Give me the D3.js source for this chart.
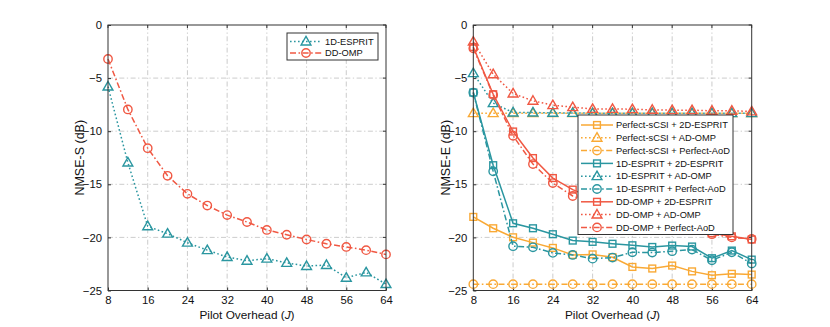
<!DOCTYPE html>
<html><head><meta charset="utf-8">
<script src="https://cdn.jsdelivr.net/npm/d3@7"></script>
<style>body{margin:0;background:#fff}svg{display:block;font-family:"Liberation Sans",Arial,Helvetica,sans-serif}</style>
</head><body><svg id="c" width="830" height="327"></svg>
<script>
// ---------- data ----------
const pilot = [8,12,16,20,24,28,32,36,40,44,48,52,56,60,64];
const xTicks = [8,16,24,32,40,48,56,64];
const yTicks = [0,-5,-10,-15,-20,-25];

// left panel (NMSE-S)
const left_ESPRIT1D = [-5.8,-12.95,-18.95,-19.65,-20.5,-21.2,-21.85,-22.2,-22.0,-22.4,-22.7,-22.6,-23.8,-23.3,-24.4];
const left_DDOMP    = [-3.2,-7.95,-11.6,-14.2,-15.9,-17.0,-17.9,-18.55,-19.3,-19.75,-20.2,-20.6,-20.9,-21.2,-21.6];

// right panel (NMSE-E)
const pS_2D   = [-18.07,-19.14,-19.99,-20.49,-20.99,-21.65,-21.6,-21.87,-22.78,-22.93,-22.65,-23.2,-23.56,-23.43,-23.5];
const pS_AD   = [-8.3,-8.3,-8.3,-8.3,-8.3,-8.3,-8.3,-8.3,-8.3,-8.3,-8.3,-8.3,-8.3,-8.3,-8.3];
const pS_PA   = [-24.4,-24.4,-24.4,-24.4,-24.4,-24.4,-24.4,-24.4,-24.4,-24.4,-24.4,-24.4,-24.4,-24.4,-24.4];
const e1_2D   = [-6.36,-13.2,-18.67,-19.14,-19.7,-20.3,-20.42,-20.6,-20.74,-20.9,-20.77,-20.86,-21.96,-21.24,-22.09];
const e1_AD   = [-4.54,-7.36,-8.24,-8.24,-8.27,-8.28,-8.3,-8.3,-8.3,-8.3,-8.3,-8.3,-8.3,-8.3,-8.3];
const e1_PA   = [-6.36,-13.78,-20.83,-20.93,-21.46,-21.65,-22.0,-21.9,-21.4,-21.43,-21.3,-21.15,-22.15,-21.4,-22.46];
const dd_2D   = [-2.07,-6.52,-10.03,-12.53,-14.41,-15.5,-16.3,-17.0,-17.6,-18.2,-18.7,-19.2,-19.6,-19.9,-20.2];
const dd_AD   = [-1.57,-4.64,-6.45,-7.14,-7.55,-7.74,-7.9,-7.9,-7.93,-7.99,-8.02,-8.02,-8.08,-8.08,-8.14];
const dd_PA   = [-2.2,-6.58,-10.43,-13.1,-14.88,-16.1,-16.8,-17.4,-18.0,-18.5,-18.9,-19.3,-19.7,-20.0,-20.15];

const leftNames  = ["1D-ESPRIT","DD-OMP"];
const rightNames = ["Perfect-sCSI + 2D-ESPRIT","Perfect-sCSI + AD-OMP","Perfect-sCSI + Perfect-AoD",
                    "1D-ESPRIT + 2D-ESPRIT","1D-ESPRIT + AD-OMP","1D-ESPRIT + Perfect-AoD",
                    "DD-OMP + 2D-ESPRIT","DD-OMP + AD-OMP","DD-OMP + Perfect-AoD"];

// ---------- styles ----------
const TEAL="#2a96a0", RED="#f05843", ORANGE="#f9a935";
const DASH = {solid:null, dotted:"1.6,2.4", dashdot:"6,2.5,1.6,2.5"};

const leftSeries = [
  {v:left_ESPRIT1D, c:TEAL, ls:"dotted",  m:"tri"},
  {v:left_DDOMP,    c:RED,  ls:"dashdot", m:"circ"}
];
const rightSeries = [
  {v:pS_2D, c:ORANGE, ls:"solid",   m:"sq"},
  {v:pS_AD, c:ORANGE, ls:"dotted",  m:"tri"},
  {v:pS_PA, c:ORANGE, ls:"dashdot", m:"circ"},
  {v:e1_2D, c:TEAL,   ls:"solid",   m:"sq"},
  {v:e1_AD, c:TEAL,   ls:"dotted",  m:"tri"},
  {v:e1_PA, c:TEAL,   ls:"dashdot", m:"circ"},
  {v:dd_2D, c:RED,    ls:"solid",   m:"sq"},
  {v:dd_AD, c:RED,    ls:"dotted",  m:"tri"},
  {v:dd_PA, c:RED,    ls:"dashdot", m:"circ"}
];

const svg = d3.select("#c");

function marker(g, type, x, y, color){
  if(type==="circ"){
    g.append("circle").attr("cx",x).attr("cy",y).attr("r",4.2)
     .attr("fill","none").attr("stroke",color).attr("stroke-width",1.4);
  } else if(type==="sq"){
    g.append("rect").attr("x",x-3.4).attr("y",y-3.4).attr("width",6.8).attr("height",6.8)
     .attr("fill","none").attr("stroke",color).attr("stroke-width",1.4);
  } else {
    const s=d3.symbol().type(d3.symbolTriangle).size(42);
    g.append("path").attr("d",s()).attr("transform",`translate(${x},${y+0.6})`)
     .attr("fill","none").attr("stroke",color).attr("stroke-width",1.4);
  }
}

function panel(opts){
  const {x0,x1,y0,y1,series,ylabel,legend} = opts;
  const xs = d3.scaleLinear().domain([8,64]).range([x0,x1]);
  const ys = d3.scaleLinear().domain([-25,0]).range([y1,y0]);
  const g = svg.append("g");
  // grid
  g.append("g").selectAll("line").data(xTicks.slice(1,-1)).join("line")
    .attr("x1",d=>xs(d)).attr("x2",d=>xs(d)).attr("y1",y0).attr("y2",y1)
    .attr("stroke","#c6c6c6").attr("stroke-width",0.9).attr("stroke-dasharray","5,2.5,1.3,2.5");
  g.append("g").selectAll("line").data(yTicks.slice(1,-1)).join("line")
    .attr("y1",d=>ys(d)).attr("y2",d=>ys(d)).attr("x1",x0).attr("x2",x1)
    .attr("stroke","#c6c6c6").attr("stroke-width",0.9).attr("stroke-dasharray","5,2.5,1.3,2.5");
  // axes via d3
  const ax = d3.axisBottom(xs).tickValues(xTicks).tickSize(-3).tickPadding(5);
  const ay = d3.axisLeft(ys).tickValues(yTicks).tickSize(-3).tickPadding(6);
  const gx = g.append("g").attr("transform",`translate(0,${y1})`).call(ax);
  const gy = g.append("g").attr("transform",`translate(${x0},0)`).call(ay);
  [gx,gy].forEach(a=>{
    a.select(".domain").remove();
    a.selectAll("line").attr("stroke","#333");
    a.selectAll("text").attr("font-size",11.3).attr("fill","#111")
      .attr("font-family",'"Liberation Sans",Arial,sans-serif');
  });
  // top/right ticks
  g.append("g").selectAll("line").data(xTicks).join("line")
    .attr("x1",d=>xs(d)).attr("x2",d=>xs(d)).attr("y1",y0).attr("y2",y0+3).attr("stroke","#333");
  g.append("g").selectAll("line").data(yTicks).join("line")
    .attr("y1",d=>ys(d)).attr("y2",d=>ys(d)).attr("x1",x1).attr("x2",x1-3).attr("stroke","#333");
  // series
  const line = d3.line().x((d,i)=>xs(pilot[i])).y(d=>ys(d));
  series.forEach(s=>{
    g.append("path").attr("d",line(s.v)).attr("fill","none").attr("stroke",s.c)
     .attr("stroke-width",1.5).attr("stroke-dasharray",DASH[s.ls]);
    s.v.forEach((d,i)=>marker(g,s.m,xs(pilot[i]),ys(d),s.c));
  });
  // box
  g.append("rect").attr("x",x0).attr("y",y0).attr("width",x1-x0).attr("height",y1-y0)
   .attr("fill","none").attr("stroke","#333").attr("stroke-width",1);
  // labels
  const xl = g.append("text").attr("x",(x0+x1)/2).attr("y",319).attr("text-anchor","middle")
    .attr("font-size",11.8).attr("fill","#111");
  xl.append("tspan").text("Pilot Overhead (");
  xl.append("tspan").attr("font-style","italic").text("J");
  xl.append("tspan").text(")");
  g.append("text").attr("transform",`translate(${x0-28},${(y0+y1)/2}) rotate(-90)`)
    .attr("text-anchor","middle").attr("dy","0.35em").attr("font-size",12.5).attr("fill","#111").text(ylabel);
  // legend
  const L = legend;
  const lg = g.append("g");
  lg.append("rect").attr("x",L.x).attr("y",L.y).attr("width",L.w).attr("height",L.h)
    .attr("fill","#fff").attr("stroke","#333").attr("stroke-width",1);
  L.names.forEach((n,i)=>{
    const s = series[i];
    const yy = L.y + L.first + i*L.step;
    lg.append("line").attr("x1",L.x+3).attr("x2",L.x+35).attr("y1",yy).attr("y2",yy)
      .attr("stroke",s.c).attr("stroke-width",1.5).attr("stroke-dasharray",DASH[s.ls]);
    marker(lg,s.m,L.x+19,yy,s.c);
    lg.append("text").attr("x",L.x+38).attr("y",yy).attr("dy","0.35em")
      .attr("font-size",L.fs).attr("fill","#111").text(n);
  });
}

panel({x0:108,x1:386,y0:25,y1:290.5,series:leftSeries,ylabel:"NMSE-S (dB)",
  legend:{x:287,y:33,w:91,h:27,first:8.5,step:11.5,fs:9.3,names:leftNames}});
panel({x0:473.3,x1:751.7,y0:25,y1:290.5,series:rightSeries,ylabel:"NMSE-E (dB)",
  legend:{x:578,y:115,w:155,h:119.5,first:10,step:12.8,fs:9.3,names:rightNames}});
</script></body></html>
